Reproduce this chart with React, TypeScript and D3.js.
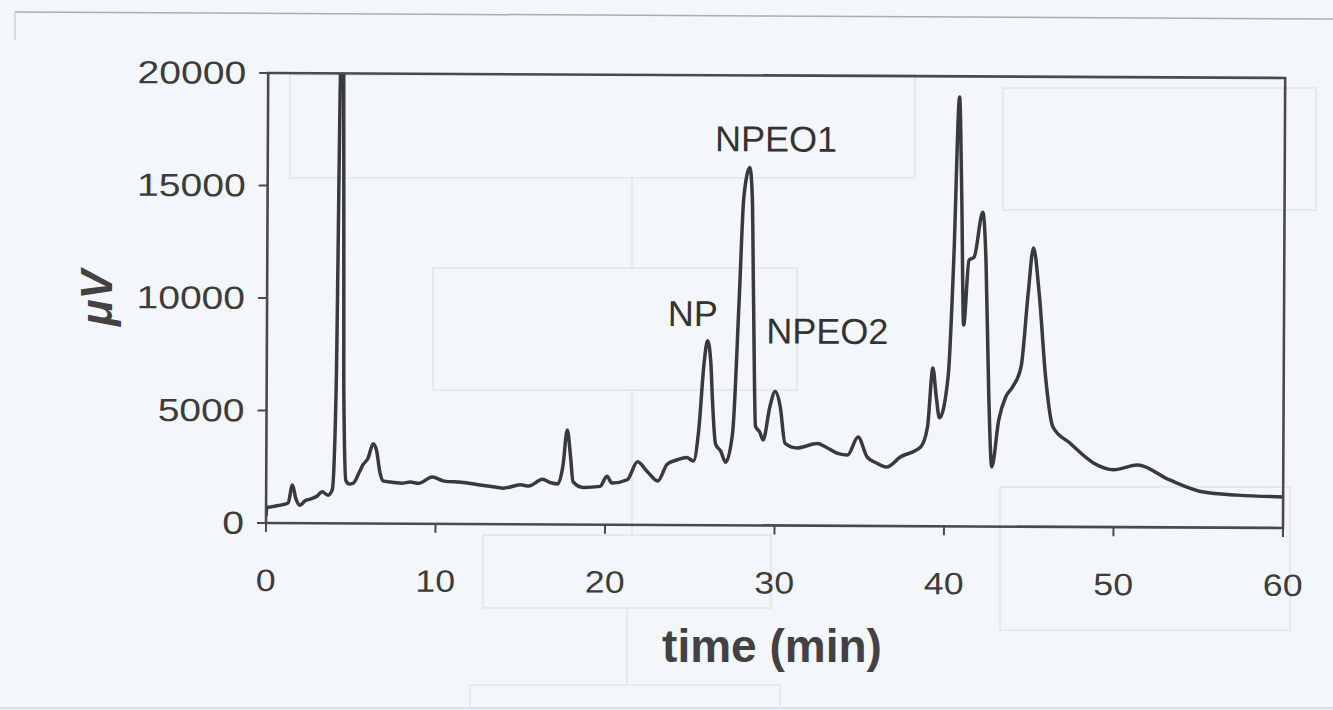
import React from "react";
import * as d3 from "d3";

// ---- data ----
const times: number[] = [
  0, 0.05, 0.1, 0.5, 1.0, 1.3, 1.55, 1.75, 2.0, 2.3, 2.6, 3.0, 3.3, 3.65, 3.9, 4.1, 4.3, 4.45, 4.55, 4.7,
  4.9, 5.15, 5.5, 5.7, 6.0, 6.3, 6.5, 6.7, 6.9, 7.3, 8.0, 8.5, 9.0, 9.8, 10.5, 11.5, 12.5, 13.5, 14.0, 15.0,
  15.5, 16.3, 16.8, 17.2, 17.5, 17.75, 17.95, 18.1, 18.7, 19.7, 20.1, 20.4, 21.3, 21.9, 22.5, 23.1, 23.65, 24.25, 24.8, 25.2,
  25.5, 25.8, 26.0, 26.2, 26.3, 26.5, 26.8, 27.1, 27.5, 27.85, 28.1, 28.45, 28.6, 28.7, 28.85, 29.1, 29.3, 29.7, 30.0, 30.3,
  30.6, 31.3, 32.5, 33.0, 33.7, 34.3, 34.9, 35.45, 36.0, 36.6, 37.4, 38.6, 39.0, 39.3, 39.5, 39.7, 40.2, 40.5, 40.8, 40.95,
  41.1, 41.4, 41.7, 42.2, 42.4, 42.6, 42.8, 43.2, 43.6, 44.0, 44.5, 44.9, 45.2, 45.55, 45.95, 46.4, 47.4, 48.8, 50.0, 51.4,
  53.3, 55.3, 57.3, 60.0,
];
const signal: number[] = [
  300, 700, 700, 750, 820, 900, 1700, 1100, 800, 1000, 1070, 1200, 1400, 1250, 1500, 6000, 21000, 21000, 6000, 1900,
  1750, 1800, 2300, 2600, 2900, 3550, 3250, 2300, 1900, 1850, 1800, 1850, 1800, 2080, 1900, 1850, 1750, 1650, 1600, 1750,
  1700, 2000, 1850, 1800, 2600, 4200, 3000, 1900, 1650, 1700, 2150, 1850, 2000, 2800, 2350, 1950, 2700, 2900, 3000, 2850,
  4200, 7200, 8200, 7200, 5600, 3600, 3300, 2800, 4100, 10000, 14600, 15900, 14500, 10000, 4400, 4150, 3800, 5300, 5950, 5300,
  3650, 3450, 3650, 3500, 3220, 3150, 3950, 3060, 2800, 2620, 3070, 3520, 4420, 7030, 5800, 4820, 6640, 11840, 19080, 14820,
  8950, 11840, 11970, 13970, 11850, 5940, 2650, 4740, 5760, 6200, 7100, 10370, 12390, 10370, 6660, 4440, 3730, 2850, 2550, 2770,
  2110, 1580, 1450, 1380,
];
const xTicks: number[] = [0, 10, 20, 30, 40, 50, 60];
const yTicks: number[] = [0, 5000, 10000, 15000, 20000];
const peakNames: string[] = ["NP", "NPEO1", "NPEO2"];
const peakTimes: number[] = [26.0, 28.45, 30.0];

const W = 1333;
const H = 710;
const FONT = "'Liberation Sans', Arial, Helvetica, sans-serif";

export default function App() {
  const x = d3.scaleLinear().domain([0, 60]).range([266, 1283]);
  const y = d3.scaleLinear().domain([0, 20000]).range([523, 73]);
  const pts: [number, number][] = times.map((t, i) => [t, signal[i]]);
  const line = d3
    .line<[number, number]>()
    .x((d) => x(d[0]))
    .y((d) => y(d[1]))
    .curve(d3.curveMonotoneX);

  const labelPos: { dx: number; y: number }[] = [
    { dx: -15, y: 324 },
    { dx: 26, y: 149 },
    { dx: 52, y: 341 },
  ];

  const ghost = "#e0e5ef";
  return (
    <svg
      width={W}
      height={H}
      style={{ position: "absolute", left: 0, top: 0, background: "#f3f6fb" }}
      fontFamily={FONT}
    >
      <rect x={0} y={0} width={W} height={H} fill="#f3f6fb" />
      {/* scan artefacts: page line and faint show-through boxes */}
      <line x1={15} y1={12} x2={1333} y2={19} stroke="#a9adb5" strokeWidth={1.5} />
      <line x1={15} y1={12} x2={15} y2={40} stroke="#c4c8cf" strokeWidth={1.2} />
      <line x1={0} y1={708} x2={1333} y2={708} stroke="#c4c8cf" strokeWidth={1.2} />
      <g fill="none" stroke={ghost} strokeWidth={1.5}>
        <rect x={290} y={75} width={625} height={103} />
        <rect x={1003} y={88} width={313} height={122} />
        <rect x={433} y={268} width={364} height={122} />
        <rect x={483} y={535} width={288} height={73} />
        <rect x={1000} y={487} width={290} height={143} />
        <rect x={470} y={685} width={310} height={40} />
        <line x1={632} y1={178} x2={632} y2={268} />
        <line x1={632} y1={390} x2={632} y2={535} />
        <line x1={627} y1={608} x2={627} y2={685} />
      </g>

      <g transform="rotate(0.28 266 523)">
        <defs>
          <clipPath id="plotclip">
            <rect x={266} y={73} width={1017} height={450} />
          </clipPath>
        </defs>
        {/* trace */}
        <path
          d={line(pts) || ""}
          fill="none"
          stroke="#3a3a3a"
          strokeWidth={3.5}
          strokeLinejoin="round"
          clipPath="url(#plotclip)"
        />
        {/* frame */}
        <rect x={266} y={73} width={1017} height={450} fill="none" stroke="#4a4a4a" strokeWidth={2.6} />
        {/* y ticks */}
        {yTicks.map((v) => (
          <g key={"y" + v}>
            <line x1={257} x2={266} y1={y(v)} y2={y(v)} stroke="#4a4a4a" strokeWidth={2} />
            <text
              transform={`translate(244,${y(v) + 11}) scale(1.22,1)`}
              textAnchor="end"
              fontSize={32}
              fill="#3c3c3c"
            >
              {v}
            </text>
          </g>
        ))}
        {/* x ticks */}
        {xTicks.map((t) => (
          <g key={"x" + t}>
            <line x1={x(t)} x2={x(t)} y1={523} y2={532} stroke="#4a4a4a" strokeWidth={2} />
            <text
              transform={`translate(${x(t)},591) scale(1.15,1)`}
              textAnchor="middle"
              fontSize={31}
              fill="#3c3c3c"
            >
              {t}
            </text>
          </g>
        ))}
        {/* peak labels */}
        {peakNames.map((n, i) => (
          <text
            key={n}
            x={x(peakTimes[i]) + labelPos[i].dx}
            y={labelPos[i].y}
            textAnchor="middle"
            fontSize={36}
            fill="#333"
          >
            {n}
          </text>
        ))}
      </g>

      {/* axis titles */}
      <text x={772} y={662} textAnchor="middle" fontSize={46} fontWeight="bold" fill="#424242">
        time (min)
      </text>
      <text
        transform="translate(112,298) rotate(-90)"
        textAnchor="middle"
        fontSize={44}
        fontWeight="bold"
        fontStyle="italic"
        fill="#424242"
      >
        μV
      </text>
    </svg>
  );
}
